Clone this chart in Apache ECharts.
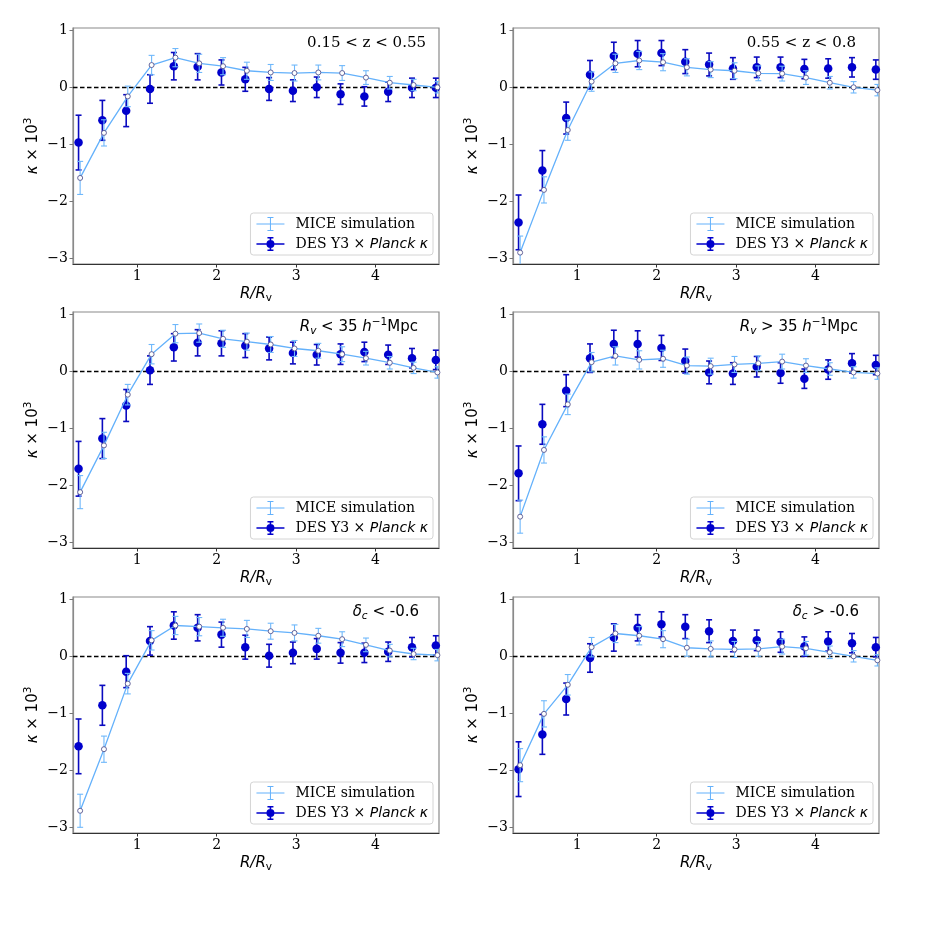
<!DOCTYPE html>
<html>
<head>
<meta charset="utf-8">
<script src="https://cdn.jsdelivr.net/npm/echarts@6/dist/echarts.min.js"></script>
<style>html,body{margin:0;padding:0;background:#fff;}#c{width:926px;height:926px;}</style>
</head>
<body>
<div id="c"></div>
<script>
// R/Rv positions of the radial bins (DES points drawn slightly left of MICE points)
const desR  = [0.26, 0.56, 0.86, 1.16, 1.46, 1.76, 2.06, 2.36, 2.66, 2.96, 3.26, 3.56, 3.86, 4.16, 4.46, 4.76];
const miceR = [0.28, 0.58, 0.88, 1.18, 1.48, 1.78, 2.08, 2.38, 2.68, 2.98, 3.28, 3.58, 3.88, 4.18, 4.48, 4.78];

// error bars (kappa x 10^3)
const miceErr = [0.29, 0.23, 0.18, 0.17, 0.16, 0.16, 0.15, 0.15, 0.14, 0.14, 0.13, 0.13, 0.12, 0.11, 0.10, 0.10];
const desErr  = [0.48, 0.35, 0.28, 0.25, 0.24, 0.23, 0.22, 0.21, 0.20, 0.19, 0.18, 0.18, 0.17, 0.17, 0.17, 0.17];

// panel 1: 0.15 < z < 0.55
const miceZlow = [-1.59, -0.80, -0.16, 0.39, 0.52, 0.42, 0.37, 0.29, 0.26, 0.25, 0.26, 0.25, 0.17, 0.08, 0.04, 0.00];
const desZlow  = [-0.97, -0.58, -0.41, -0.03, 0.37, 0.36, 0.26, 0.14, -0.03, -0.06, 0.00, -0.12, -0.16, -0.08, -0.01, -0.01];
// panel 2: 0.55 < z < 0.8
const miceZhigh = [-2.90, -1.80, -0.75, 0.10, 0.42, 0.47, 0.44, 0.35, 0.31, 0.29, 0.245, 0.24, 0.17, 0.08, 0.00, -0.05];
const desZhigh  = [-2.37, -1.46, -0.54, 0.22, 0.55, 0.59, 0.60, 0.45, 0.40, 0.33, 0.35, 0.35, 0.32, 0.33, 0.35, 0.31];
// panel 3: Rv < 35
const miceRsmall = [-2.12, -1.30, -0.41, 0.30, 0.66, 0.67, 0.57, 0.52, 0.47, 0.40, 0.36, 0.30, 0.23, 0.15, 0.06, -0.02];
const desRsmall  = [-1.71, -1.18, -0.60, 0.02, 0.42, 0.50, 0.49, 0.45, 0.40, 0.32, 0.29, 0.30, 0.34, 0.29, 0.23, 0.20];
// panel 4: Rv > 35
const miceRlarge = [-2.55, -1.38, -0.58, 0.16, 0.27, 0.20, 0.22, 0.10, 0.09, 0.12, 0.14, 0.17, 0.10, 0.04, -0.02, -0.04];
const desRlarge  = [-1.79, -0.93, -0.34, 0.23, 0.48, 0.48, 0.41, 0.18, -0.02, -0.04, 0.08, -0.03, -0.13, 0.03, 0.14, 0.11];
// panel 5: delta_c < -0.6
const miceDlow = [-2.71, -1.63, -0.48, 0.28, 0.54, 0.52, 0.50, 0.48, 0.44, 0.41, 0.36, 0.30, 0.20, 0.10, 0.04, 0.02];
const desDlow  = [-1.58, -0.86, -0.27, 0.27, 0.54, 0.50, 0.38, 0.16, 0.01, 0.06, 0.13, 0.06, 0.06, 0.08, 0.16, 0.19];
// panel 6: delta_c > -0.6
const miceDhigh = [-1.91, -1.01, -0.50, 0.16, 0.40, 0.36, 0.30, 0.15, 0.13, 0.12, 0.13, 0.17, 0.14, 0.07, 0.00, -0.07];
const desDhigh  = [-1.98, -1.37, -0.75, -0.03, 0.33, 0.50, 0.56, 0.52, 0.44, 0.27, 0.28, 0.25, 0.17, 0.26, 0.23, 0.16];

const panelTitles = [
  '{s|0.15 < z < 0.55}',
  '{s|0.55 < z < 0.8}',
  '{i|R}{sub|v}{n| < 35 }{i|h}{sup|−1}{n|Mpc}',
  '{i|R}{sub|v}{n| > 35 }{i|h}{sup|−1}{n|Mpc}',
  '{i|δ}{sub|c}{n| < -0.6}',
  '{i|δ}{sub|c}{n| > -0.6}'
];
const xTicks = [1, 2, 3, 4];
const yTicks = [-3, -2, -1, 0, 1];
const miceName = 'MICE simulation';
const desName = 'DES Y3 × Planck κ';

const panels = [
  {mice: miceZlow, des: desZlow},
  {mice: miceZhigh, des: desZhigh},
  {mice: miceRsmall, des: desRsmall},
  {mice: miceRlarge, des: desRlarge},
  {mice: miceDlow, des: desDlow},
  {mice: miceDhigh, des: desDhigh}
];

// layout
const gridLefts = [73, 513];
const gridTops = [28, 312, 597];
const gridW = 366, gridH = 236;
const titleRight = [500, 70, 508, 68, 507, 67];

const LIGHT = '#64b1fb', LIGHT_ERR = '#6fb8fb', DARK = '#0000cc', DARK_ERR = '#0a0ac0';

function errRender(capHalf, width, color) {
  return function (params, api) {
    const x = api.value(0), y = api.value(1), e = api.value(2);
    const p1 = api.coord([x, y + e]), p2 = api.coord([x, y - e]);
    const style = {stroke: color, lineWidth: width, fill: null};
    return {type: 'group', children: [
      {type: 'line', shape: {x1: p1[0], y1: p1[1], x2: p2[0], y2: p2[1]}, style: style},
      {type: 'line', shape: {x1: p1[0] - capHalf, y1: p1[1], x2: p1[0] + capHalf, y2: p1[1]}, style: style},
      {type: 'line', shape: {x1: p2[0] - capHalf, y1: p2[1], x2: p2[0] + capHalf, y2: p2[1]}, style: style}
    ]};
  };
}

const iconMice = 'path://M0,6.5H28V7.5H0Z M13.5,0H14.5V14H13.5Z M11,0H17V1H11Z M11,13H17V14H11Z';
const iconDes = 'path://M0,6.3H28V7.7H0Z M13.2,0H14.8V14H13.2Z M11,0H17V1.4H11Z M11,12.6H17V14H11Z M18,7A4,4 0 1 1 10,7A4,4 0 1 1 18,7Z';

const grids = [], xAxes = [], yAxes = [], series = [], titles = [], legends = [];
const serifFont = 'DejaVu Serif';
const sansFont = 'DejaVu Sans';
const N = 'normal';

panels.forEach(function (p, i) {
  const col = i % 2, row = Math.floor(i / 2);
  const left = gridLefts[col], top = gridTops[row];
  grids.push({left: left, top: top, width: gridW, height: gridH, show: true,
    borderColor: '#8a8a8a', borderWidth: 1.2, backgroundColor: 'transparent'});
  xAxes.push({
    type: 'value', gridIndex: i, min: 0.19, max: 4.8,
    splitLine: {show: false},
    axisLine: {show: true, onZero: false, lineStyle: {color: '#333', width: 1}},
    axisTick: {show: true, customValues: xTicks, length: 3.5, lineStyle: {color: '#333'}},
    axisLabel: {customValues: xTicks, color: '#000', fontFamily: serifFont, fontSize: 14, margin: 5},
    name: '{i|R/R}{sub|v}', nameLocation: 'middle', nameGap: 20,
    nameTextStyle: {color: '#000', rich: {
      i: {fontFamily: sansFont, fontStyle: 'italic', fontWeight: N, fontSize: 15, lineHeight: 20, verticalAlign: 'middle', color: '#000'},
      sub: {fontFamily: sansFont, fontWeight: N, fontSize: 10.5, lineHeight: 11, verticalAlign: 'bottom', color: '#000'}
    }}
  });
  yAxes.push({
    type: 'value', gridIndex: i, min: -3.1, max: 1.04,
    splitLine: {show: false},
    axisLine: {show: true, onZero: false, lineStyle: {color: '#8a8a8a', width: 1.2}},
    axisTick: {show: true, customValues: yTicks, length: 3.5, lineStyle: {color: '#777'}},
    axisLabel: {customValues: yTicks, color: '#000', fontFamily: serifFont, fontSize: 14, margin: 5,
      formatter: function (v) { return v < 0 ? '\u2212' + Math.abs(v) : String(v); }},
    name: '{i|κ}{n| × 10}{sup|3}', nameLocation: 'middle', nameGap: 30, nameRotate: 90,
    nameTextStyle: {color: '#000', rich: {
      i: {fontFamily: sansFont, fontStyle: 'italic', fontWeight: N, fontSize: 15, lineHeight: 20, verticalAlign: 'middle', color: '#000'},
      n: {fontFamily: sansFont, fontWeight: N, fontSize: 15, lineHeight: 20, verticalAlign: 'middle', color: '#000'},
      sup: {fontFamily: sansFont, fontWeight: N, fontSize: 10.5, lineHeight: 11, verticalAlign: 'top', color: '#000'}
    }}
  });

  // MICE errorbars (first series with this name -> used for legend icon)
  series.push({
    type: 'custom', name: miceName, xAxisIndex: i, yAxisIndex: i, z: 4, clip: true,
    color: LIGHT, itemStyle: {color: LIGHT},
    renderItem: errRender(3, 1.1, LIGHT_ERR),
    encode: {x: 0, y: 1},
    data: miceR.map(function (x, k) { return [x, p.mice[k], miceErr[k]]; })
  });
  // DES errorbars
  series.push({
    type: 'custom', name: desName, xAxisIndex: i, yAxisIndex: i, z: 2, clip: true,
    color: DARK, itemStyle: {color: DARK},
    renderItem: errRender(3, 1.6, DARK_ERR),
    encode: {x: 0, y: 1},
    data: desR.map(function (x, k) { return [x, p.des[k], desErr[k]]; })
  });
  // DES points + zero line
  series.push({
    type: 'scatter', name: desName, xAxisIndex: i, yAxisIndex: i, z: 3,
    symbol: 'circle', symbolSize: 8.5, itemStyle: {color: DARK, opacity: 1},
    data: desR.map(function (x, k) { return [x, p.des[k]]; }),
    markLine: {
      silent: true, symbol: 'none', z: 1, animation: false,
      label: {show: false},
      lineStyle: {color: '#000', type: [4.5, 2.5], width: 1.3},
      emphasis: {disabled: true},
      data: [{yAxis: 0}]
    }
  });
  // MICE line + open markers
  series.push({
    type: 'line', name: miceName, xAxisIndex: i, yAxisIndex: i, z: 5,
    symbol: 'circle', symbolSize: 5, showSymbol: true,
    lineStyle: {color: LIGHT, width: 1.3},
    itemStyle: {color: '#ffffff', borderColor: '#55558f', borderWidth: 0.9},
    data: miceR.map(function (x, k) { return [x, p.mice[k]]; })
  });

  titles.push({
    text: panelTitles[i], right: titleRight[i], top: top + 5, padding: 0,
    textStyle: {fontWeight: N, rich: {
      s: {fontFamily: serifFont, fontWeight: N, fontSize: 15, lineHeight: 20, verticalAlign: 'middle', color: '#000'},
      n: {fontFamily: sansFont, fontWeight: N, fontSize: 15, lineHeight: 20, verticalAlign: 'middle', color: '#000'},
      i: {fontFamily: sansFont, fontStyle: 'italic', fontWeight: N, fontSize: 15, lineHeight: 20, verticalAlign: 'middle', color: '#000'},
      sub: {fontFamily: sansFont, fontStyle: 'italic', fontWeight: N, fontSize: 10.5, lineHeight: 11, verticalAlign: 'bottom', color: '#000'},
      sup: {fontFamily: sansFont, fontWeight: N, fontSize: 10.5, lineHeight: 11, verticalAlign: 'top', color: '#000'}
    }}
  });

  legends.push({
    orient: 'vertical', right: 926 - (left + gridW - 6), top: top + 185,
    padding: [4, 5, 4, 6], itemGap: 6, itemWidth: 28, itemHeight: 14,
    backgroundColor: '#fff', borderColor: '#d4d4d4', borderWidth: 1, borderRadius: 3,
    selectedMode: false,
    data: [
      {name: miceName, icon: iconMice, itemStyle: {color: LIGHT, borderWidth: 0}},
      {name: desName, icon: iconDes, itemStyle: {color: DARK, borderWidth: 0}}
    ],
    formatter: function (n) {
      return n === desName ? '{s|DES Y3 × }{it|Planck κ}' : '{s|' + n + '}';
    },
    textStyle: {padding: [0, 0, 0, 6], rich: {
      s: {fontFamily: serifFont, fontWeight: N, fontSize: 14, lineHeight: 16, color: '#000'},
      it: {fontFamily: sansFont, fontStyle: 'italic', fontWeight: N, fontSize: 14, lineHeight: 16, color: '#000'}
    }}
  });
});

const chart = echarts.init(document.getElementById('c'), null, {renderer: 'canvas'});
chart.setOption({
  animation: false,
  backgroundColor: '#fff',
  title: titles,
  legend: legends,
  grid: grids,
  xAxis: xAxes,
  yAxis: yAxes,
  series: series
});
</script>
</body>
</html>
